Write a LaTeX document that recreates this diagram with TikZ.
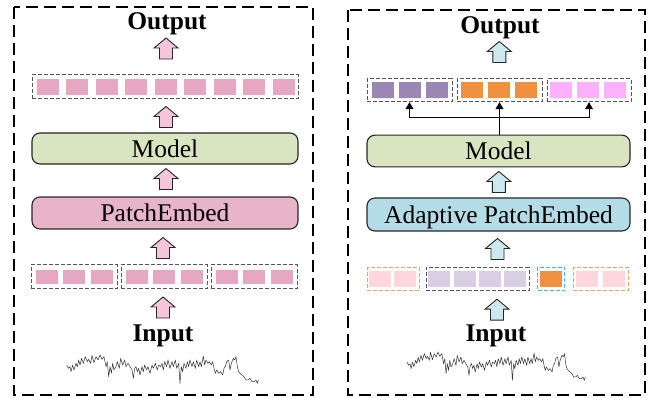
\documentclass[tikz,border=0pt]{standalone}
\usepackage{fontspec}
\setmainfont{Liberation Serif}
\usetikzlibrary{arrows.meta,calc}
\definecolor{pinkTok}{HTML}{E6A7C2}
\definecolor{pinkBox}{HTML}{E8B4C9}
\definecolor{pinkArr}{HTML}{F5C6D9}
\definecolor{modelGreen}{HTML}{D9E4C1}
\definecolor{blueBox}{HTML}{B3DCE6}
\definecolor{blueArr}{HTML}{CDE9EF}
\definecolor{purpTok}{HTML}{9C86B6}
\definecolor{orTok}{HTML}{F0913F}
\definecolor{magTok}{HTML}{FFB0FE}
\definecolor{ltPink}{HTML}{FFD6D9}
\definecolor{lavTok}{HTML}{D9CFE4}
\definecolor{cyanDash}{HTML}{3EB8E8}
\definecolor{orDash}{HTML}{F0A060}
\definecolor{grayDash}{HTML}{555555}
\tikzset{
  frame/.style={draw=black, line width=2pt, dash pattern=on 12pt off 6pt},
  lbl/.style={font=\fontsize{25.5}{30}\selectfont\bfseries, inner sep=0pt},
  box/.style={draw=black!85, line width=1.1pt, rounded corners=8pt, inner sep=0pt,
    font=\fontsize{25.5}{30}\selectfont, text height=17.4pt, text depth=0pt},
  tok/.style={fill=#1, inner sep=0pt, minimum width=22pt, minimum height=15.7pt},
  grp/.style={draw=#1, line width=1pt, dash pattern=on 4pt off 2pt, inner sep=0pt},
  conn/.style={line width=1pt, -{Triangle[width=8pt,length=7pt]}},
  ts/.style={line width=0.5pt, draw=black!80, line join=round},
  pics/uparrow/.style={code={
    \draw[fill=#1, draw=black!85, line width=0.9pt, line join=miter]
      (-6.5,10.5) -- (-6.5,-0.5) -- (-12,-0.5) -- (0,-10.5) -- (12,-0.5) -- (6.5,-0.5) -- (6.5,10.5) -- cycle;}}
}
\def\tsdata{(200,495) -- (205,505) -- (210,500) -- (213,515) -- (218,495) -- (222,510) -- (228,490) -- (232,500) -- (236,480) -- (240,495) -- (245,475) -- (250,490) -- (256,470) -- (262,485) -- (266,478) -- (272,490) -- (276,466) -- (282,488) -- (288,470) -- (294,480) -- (300,465) -- (306,478) -- (312,470) -- (318,500) -- (322,485) -- (326,530) -- (330,500) -- (334,520) -- (338,490) -- (342,510) -- (348,500) -- (352,485) -- (358,505) -- (362,475) -- (368,495) -- (374,480) -- (378,500) -- (384,490) -- (390,500) -- (396,510) -- (400,535) -- (404,505) -- (408,500) -- (412,515) -- (416,505) -- (420,525) -- (426,500) -- (430,515) -- (434,495) -- (440,510) -- (444,500) -- (450,520) -- (456,495) -- (460,505) -- (466,490) -- (472,510) -- (476,495) -- (482,500) -- (486,490) -- (490,510) -- (494,485) -- (500,500) -- (504,480) -- (510,505) -- (516,485) -- (520,500) -- (526,480) -- (530,505) -- (536,490) -- (540,550) -- (544,500) -- (548,515) -- (552,490) -- (558,505) -- (562,485) -- (566,500) -- (570,480) -- (576,500) -- (580,485) -- (586,505) -- (590,480) -- (596,500) -- (600,485) -- (604,500) -- (610,468) -- (614,495) -- (618,480) -- (624,490) -- (628,485) -- (634,495) -- (638,485) -- (642,505) -- (646,520) -- (650,510) -- (656,520) -- (662,515) -- (668,525) -- (672,505) -- (676,500) -- (680,485) -- (686,480) -- (690,510) -- (694,490) -- (700,475) -- (704,480) -- (708,470) -- (712,500) -- (716,515) -- (720,520) -- (726,525) -- (732,530) -- (738,540) -- (744,540) -- (750,535) -- (756,545) -- (762,545) -- (768,540) -- (772,550) -- (775,540)}
\begin{document}
\begin{tikzpicture}[x=1pt,y=-1pt]
\useasboundingbox (0,0) rectangle (649,398);
% ---------------- left panel ----------------
\draw[frame] (14,7) rectangle (313,395);
\node[lbl, anchor=base] (outL) at (167,30) {Output};
\pic at (166,48.5) {uparrow=pinkArr};
\node[grp=grayDash, minimum width=266pt, minimum height=24pt] (rowL) at (165,87) {};
\foreach \i in {0,...,8} {
  \node[tok=pinkTok] (oL\i) at ({47.7+29.5*\i},87) {};
}
\pic at (166,117) {uparrow=pinkArr};
\node[box, fill=modelGreen, minimum width=266pt, minimum height=31pt] (mL) at (165,148.5) {Model};
\pic at (166,179) {uparrow=pinkArr};
\node[box, fill=pinkBox, minimum width=266pt, minimum height=32pt] (pL) at (165,213) {PatchEmbed};
\pic at (163,248) {uparrow=pinkArr};
\foreach \c [count=\k] in {74,164,254} {
  \node[grp=grayDash, minimum width=86pt, minimum height=24pt] (gL\k) at (\c,277) {};
}
\foreach \x [count=\k] in {46.7,74.3,101.7,136.7,164.3,192,226.7,254.3,281.7} {
  \node[tok=pinkTok, minimum height=14.5pt] (iL\k) at (\x,277) {};
}
\pic at (163,307.5) {uparrow=pinkArr};
\node[lbl, anchor=base] (inL) at (163,341.5) {Input};
\begin{scope}[shift={(0,200)}, scale=1/3]
  \draw[ts] \tsdata;
\end{scope}
% ---------------- right panel ----------------
\draw[frame] (348,10) rectangle (645,395);
\node[lbl, anchor=base] (outR) at (500,33.5) {Output};
\pic at (499.3,52) {uparrow=blueArr};
\node[grp=grayDash, minimum width=85pt, minimum height=23pt] (g1) at (409.5,90.2) {};
\node[grp=grayDash, minimum width=85pt, minimum height=23pt] (g2) at (499.5,90.2) {};
\node[grp=grayDash, minimum width=84pt, minimum height=23pt] (g3) at (589,90.2) {};
\foreach \x [count=\k] in {382.7,409.7,437} {
  \node[tok=purpTok, minimum width=21.7pt] (a\k) at (\x,89.8) {};
}
\foreach \x [count=\k] in {471.7,498.7,526} {
  \node[tok=orTok, minimum width=21.7pt] (b\k) at (\x,89.8) {};
}
\foreach \x [count=\k] in {561,588,615.3} {
  \node[tok=magTok, minimum width=21.7pt] (c\k) at (\x,89.8) {};
}
\node[box, fill=modelGreen, minimum width=263pt, minimum height=31.7pt] (mR) at (498.5,151) {Model};
\coordinate (hL) at (409.5,117.7);
\coordinate (hR) at (589,117.7);
\draw[conn] (mR.north -| g2) -- (g2.south);
\draw[line width=1pt] (hL) -- (hR);
\draw[conn] (hL) -- (g1.south);
\draw[conn] (hR) -- (g3.south);
\pic at (498.8,182) {uparrow=blueArr};
\node[box, fill=blueBox, minimum width=263pt, minimum height=33pt] (pR) at (498.5,214.5) {Adaptive PatchEmbed};
\pic at (497.5,249) {uparrow=blueArr};
\node[grp=orDash, minimum width=52pt, minimum height=23.4pt] (r1) at (393.3,279) {};
\node[grp=grayDash, minimum width=103pt, minimum height=23.4pt] (r2) at (477.5,279) {};
\node[grp=cyanDash, minimum width=27.3pt, minimum height=23.4pt] (r3) at (551.3,279) {};
\node[grp=orDash, minimum width=55pt, minimum height=23.4pt] (r4) at (600.8,279) {};
\foreach \x [count=\k] in {380,405.2} {
  \node[tok=ltPink, minimum width=21.5pt] (p\k) at (\x,278.8) {};
}
\foreach \x [count=\k] in {439.2,464.9,490.2,515.2} {
  \node[tok=lavTok, minimum width=21.5pt] (q\k) at (\x,278.8) {};
}
\node[tok=orTok, minimum width=21.5pt] (s1) at (550.9,278.8) {};
\foreach \x [count=\k] in {586.9,614.2} {
  \node[tok=ltPink, minimum width=21.5pt] (t\k) at (\x,278.8) {};
}
\pic at (497,309.7) {uparrow=blueArr};
\node[lbl, anchor=base] (inR) at (496,341.5) {Input};
\begin{scope}[shift={(345,197)}, xscale=0.31, yscale=1/3]
  \draw[ts] \tsdata;
\end{scope}
\end{tikzpicture}
\end{document}
